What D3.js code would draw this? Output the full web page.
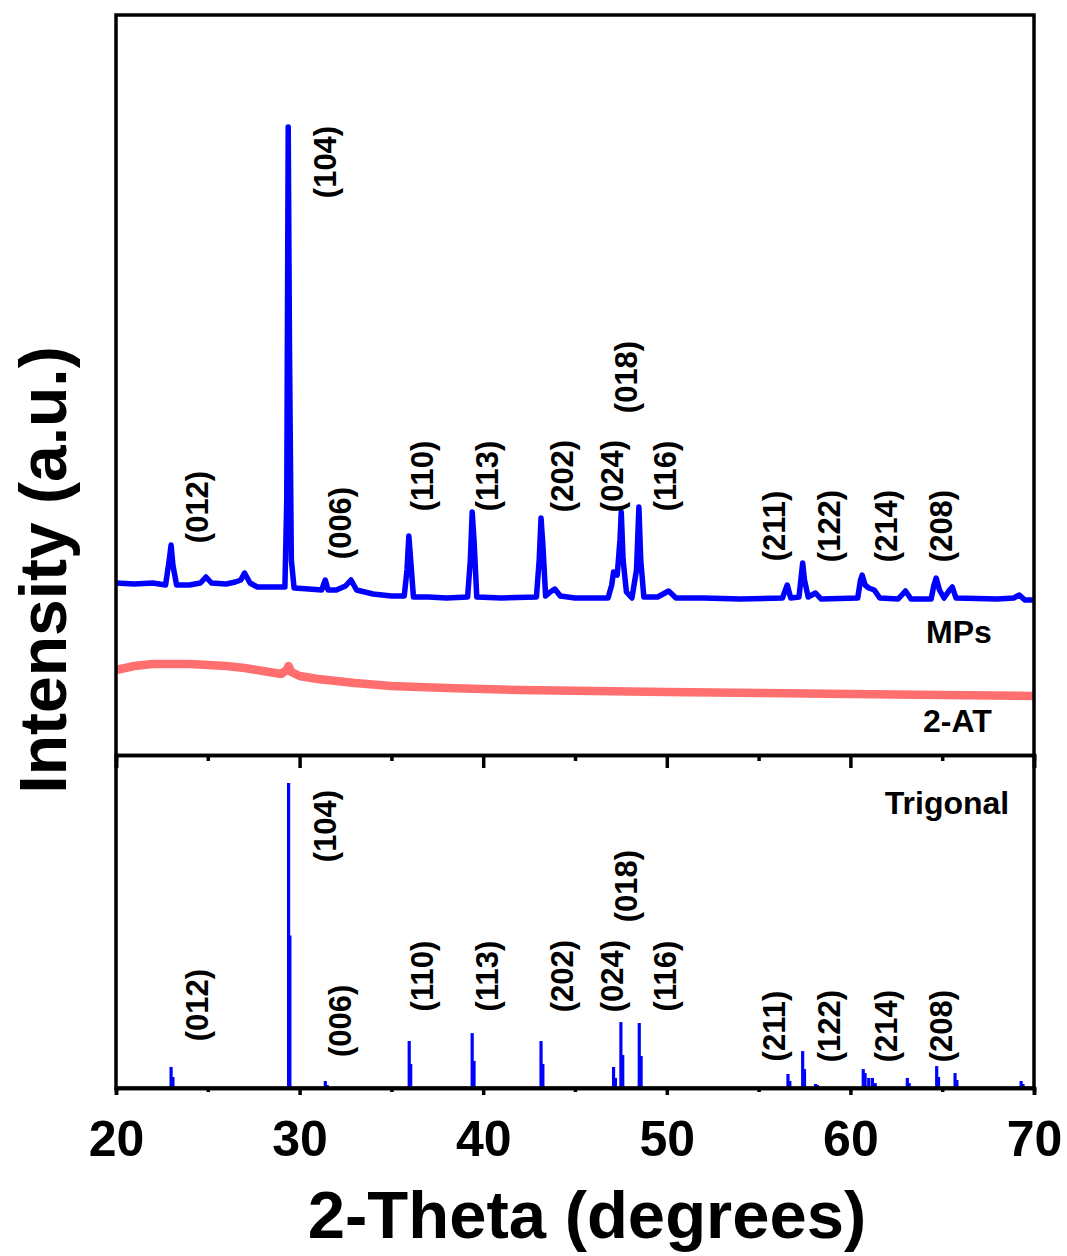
<!DOCTYPE html>
<html>
<head>
<meta charset="utf-8">
<script src="https://cdn.jsdelivr.net/npm/d3@7"></script>
<style>
  html, body { margin: 0; padding: 0; background: #fff; }
  svg { display: block; }
  text { font-family: "Liberation Sans", Arial, Helvetica, sans-serif; font-weight: bold; fill: #000; }
</style>
</head>
<body>
<svg id="chart" width="1067" height="1256"></svg>
<script>
// ---- Data -------------------------------------------------------------
// Measured pattern of the microparticles (2-theta in degrees, intensity in counts)
const mpsTheta = [20.0,21.0,22.0,22.7,22.9,23.0,23.1,23.3,24.0,24.6,24.9,25.2,26.0,26.5,26.8,27.0,27.3,27.7,28.5,29.2,29.3,29.38,29.45,29.55,29.7,30.5,31.2,31.4,31.55,32.0,32.5,32.8,33.1,34.0,35.0,35.7,35.85,35.95,36.05,36.2,37.0,38.0,39.15,39.3,39.4,39.5,39.65,41.0,42.9,43.05,43.15,43.25,43.4,43.65,43.9,44.2,45.0,46.8,47.0,47.1,47.3,47.45,47.52,47.62,47.8,48.1,48.35,48.48,48.58,48.75,49.5,50.1,50.5,52.0,54.0,56.3,56.56,56.75,57.2,57.3,57.4,57.5,57.7,58.1,58.4,60.4,60.55,60.64,60.8,61.0,61.3,61.6,62.6,63.0,63.3,64.4,64.55,64.67,64.85,65.1,65.4,65.55,65.75,68.0,68.9,69.2,69.5,70.0];
const mpsCounts = [1720,1710,1720,1700,1950,2100,1900,1700,1700,1720,1780,1720,1710,1730,1750,1820,1720,1680,1680,1680,2550,6280,4050,1950,1670,1660,1650,1750,1650,1650,1690,1750,1650,1610,1590,1590,1850,2190,1950,1580,1580,1570,1580,1950,2430,2150,1580,1570,1580,1950,2370,2100,1590,1630,1660,1590,1570,1570,1700,1830,1800,2150,2430,1950,1630,1570,1850,2480,1950,1580,1580,1640,1570,1570,1560,1570,1700,1570,1580,1750,1920,1750,1580,1620,1560,1570,1750,1800,1700,1670,1650,1570,1560,1640,1560,1560,1700,1770,1650,1570,1650,1680,1570,1560,1570,1600,1550,1550];

// Measured pattern of 2-AT (broad amorphous background)
const atTheta  = [20.0,21.0,22.0,23.0,24.0,25.0,26.0,27.0,28.0,29.0,29.3,29.4,29.55,30.0,31.0,32.0,33.0,35.0,38.0,42.0,46.0,50.0,55.0,60.0,65.0,70.0];
const atCounts = [850,890,910,910,910,900,890,870,840,810,850,890,830,790,760,740,720,690,670,650,640,630,620,610,600,590];

// Reference pattern of the trigonal phase (relative intensity, %)
const refTheta = [23.0,23.1,29.4,29.47,31.4,31.5,35.97,36.05,39.4,39.5,43.15,43.25,47.1,47.2,47.5,47.6,48.5,48.6,56.6,56.7,57.4,57.5,58.1,58.2,60.7,60.8,61.0,61.2,61.35,63.1,63.2,64.7,64.8,65.7,65.8,69.3,69.4];
const refInt   = [6.9,3.6,100,50,2.3,1.0,15.4,7.9,18.0,8.9,15.4,7.9,6.9,3.3,21.6,10.8,21.3,10.5,4.6,2.3,12.1,6.2,1.3,1.0,6.2,4.9,3.3,3.3,1.6,3.3,1.6,7.2,3.6,4.9,2.6,2.3,1.3];

// Miller indices and where their labels sit
const hklNames    = ["(012)","(104)","(006)","(110)","(113)","(202)","(024)","(018)","(116)","(211)","(122)","(214)","(208)"];
const hklTheta    = [25.0,32.0,32.8,37.25,40.8,44.9,47.6,48.35,50.5,56.45,59.45,62.55,65.55];
const hklTopLevel = [2480,5930,2320,2790,2790,2790,2790,3780,2790,2290,2290,2290,2290];   // counts, upper panel
const hklRefLevel = [27.2,85.9,22.0,36.7,36.7,36.7,36.7,66.2,36.7,20.3,20.3,20.3,20.3];   // %, lower panel

const xTicks = [20,30,40,50,60,70];
const xMinorTicks = [25,35,45,55,65];

// ---- Scales -----------------------------------------------------------
const svg = d3.select("#chart");
const plotLeft = 116, plotRight = 1034, plotTop = 15, plotMid = 755, plotBottom = 1088;

const x = d3.scaleLinear().domain([20, 70]).range([plotLeft, plotRight]);
const yTop = d3.scaleLinear().domain([0, 7400]).range([plotMid, plotTop]);
const yRef = d3.scaleLinear().domain([0, 100]).range([plotBottom, 783]);

const blue = "#0000ff";
const red = "#ff6f6f";

// ---- Upper panel traces ----------------------------------------------
const line = d3.line().x(d => x(d[0])).y(d => yTop(d[1]));

svg.append("path")
  .datum(d3.zip(atTheta, atCounts))
  .attr("d", line)
  .attr("fill", "none")
  .attr("stroke", red)
  .attr("stroke-width", 8.5)
  .attr("stroke-linejoin", "round");

svg.append("path")
  .datum(d3.zip(mpsTheta, mpsCounts))
  .attr("d", line)
  .attr("fill", "none")
  .attr("stroke", blue)
  .attr("stroke-width", 5.5)
  .attr("stroke-linejoin", "round");

// ---- Lower panel sticks ----------------------------------------------
svg.append("g").selectAll("line")
  .data(d3.zip(refTheta, refInt))
  .join("line")
  .attr("x1", d => x(d[0])).attr("x2", d => x(d[0]))
  .attr("y1", yRef(0)).attr("y2", d => yRef(d[1]))
  .attr("stroke", blue)
  .attr("stroke-width", 3.2);

// ---- hkl labels --------------------------------------------------------
function hklLabels(levelFn, levels) {
  svg.append("g").selectAll("text")
    .data(hklNames.map((n, i) => ({ n, t: hklTheta[i], v: levels[i] })))
    .join("text")
    .attr("transform", d => `translate(${x(d.t)},${levelFn(d.v)}) rotate(-90)`)
    .attr("text-anchor", "middle")
    .attr("font-size", 31)
    .text(d => d.n);
}
hklLabels(yTop, hklTopLevel);
hklLabels(yRef, hklRefLevel);

// ---- Sample names ------------------------------------------------------
svg.append("text").attr("x", x(67.7)).attr("y", yTop(1120))
  .attr("text-anchor", "end").attr("font-size", 32).text("MPs");
svg.append("text").attr("x", x(67.7)).attr("y", yTop(230))
  .attr("text-anchor", "end").attr("font-size", 32).text("2-AT");
svg.append("text").attr("x", x(68.65)).attr("y", yRef(89.8))
  .attr("text-anchor", "end").attr("font-size", 32).text("Trigonal");

// ---- Frame and axes ---------------------------------------------------
const frame = svg.append("g").attr("stroke", "#000").attr("stroke-width", 3.5).attr("fill", "none");
frame.append("rect").attr("x", plotLeft).attr("y", plotTop)
  .attr("width", plotRight - plotLeft).attr("height", plotBottom - plotTop);

// divider axis between the panels
const midAxis = svg.append("g").attr("transform", `translate(0,${plotMid})`);
midAxis.call(d3.axisBottom(x).tickValues(xTicks).tickSize(13).tickFormat(""));
midAxis.append("g").call(d3.axisBottom(x).tickValues(xMinorTicks).tickSize(6).tickFormat(""));

// bottom axis
const botAxis = svg.append("g").attr("transform", `translate(0,${plotBottom})`);
botAxis.call(d3.axisBottom(x).tickValues(xTicks).tickSize(7).tickPadding(25).tickFormat(d3.format("d")));
botAxis.append("g").call(d3.axisBottom(x).tickValues(xMinorTicks).tickSize(4).tickFormat(""));

svg.selectAll(".domain").attr("stroke", "#000").attr("stroke-width", 3.5);
svg.selectAll(".tick line").attr("stroke", "#000").attr("stroke-width", 3.5);
botAxis.selectAll(".tick text")
  .attr("font-size", 50)
  .attr("font-family", "'Liberation Sans', Arial, sans-serif")
  .attr("font-weight", "bold")
  .attr("fill", "#000")
  .attr("dy", "0.72em");

// ---- Axis titles ------------------------------------------------------
svg.append("text")
  .attr("x", 587).attr("y", 1238)
  .attr("text-anchor", "middle")
  .attr("font-size", 67)
  .text("2-Theta (degrees)");

svg.append("text")
  .attr("transform", "translate(66,570) rotate(-90)")
  .attr("text-anchor", "middle")
  .attr("font-size", 66)
  .text("Intensity (a.u.)");
</script>
</body>
</html>
